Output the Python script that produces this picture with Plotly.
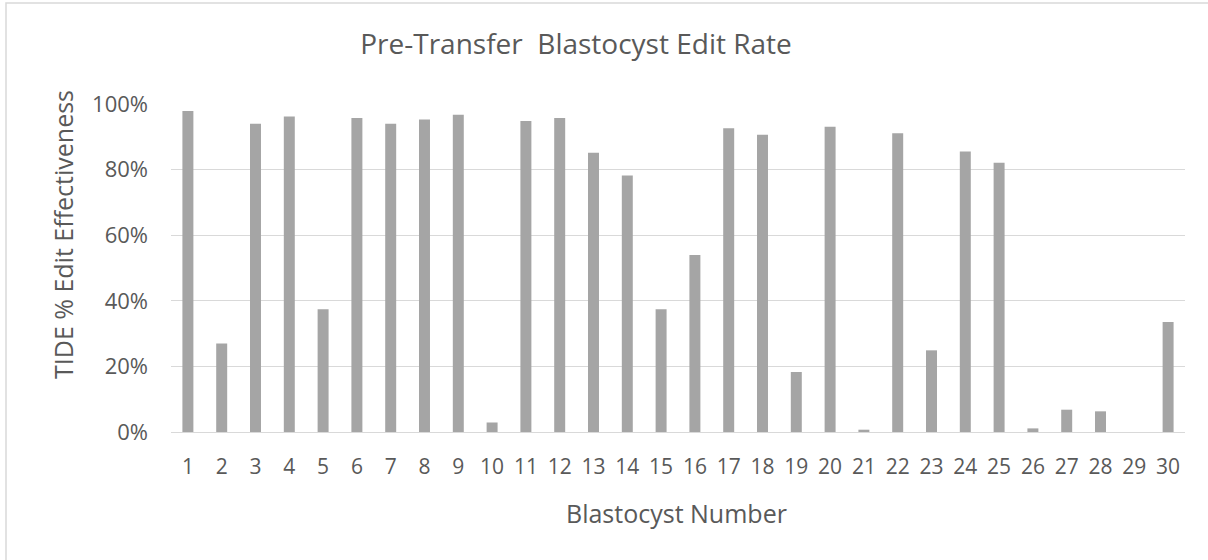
import plotly.graph_objects as go

blastocysts = [str(i) for i in range(1, 31)]
edit_rate = [97.9, 27.0, 94.0, 96.2, 37.4, 95.7, 94.0, 95.3, 96.7, 2.9,
             94.8, 95.7, 85.1, 78.2, 37.4, 54.0, 92.6, 90.6, 18.3, 93.1,
             0.7, 91.1, 24.9, 85.5, 82.1, 1.1, 6.8, 6.3, 0.0, 33.5]
y_ticks = [0, 0.2, 0.4, 0.6, 0.8, 1.0]

TXT = "#595959"
FONT = "Open Sans"

W, H = 1208, 560
L, R, T, B = 171, 23, 104, 128
PW, PH = W - L - R, H - T - B

fig = go.Figure(go.Bar(
    x=blastocysts,
    y=[v / 100 for v in edit_rate],
    marker=dict(color="#A5A5A5", line=dict(width=0)),
))

fig.update_layout(
    width=W, height=H,
    margin=dict(l=L, r=R, t=T, b=B),
    paper_bgcolor="white", plot_bgcolor="white",
    bargap=0.675,
    showlegend=False,
    font=dict(family=FONT, color=TXT, size=22),
    title=dict(text="Pre-Transfer  Blastocyst Edit Rate", x=576 / W, xref="container",
               xanchor="center", y=1 - 44 / H, yref="container", yanchor="middle",
               font=dict(family=FONT, size=28, color=TXT)),
    xaxis=dict(type="category", showgrid=False, showline=True, linecolor="#D9D9D9",
               linewidth=1, ticks="", ticklabelstandoff=16,
               tickfont=dict(size=21, color=TXT)),
    yaxis=dict(range=[0, 1], tickvals=y_ticks, tickformat=".0%",
               showgrid=True, gridcolor="#D9D9D9", gridwidth=1,
               zeroline=True, zerolinecolor="#D9D9D9", zerolinewidth=1,
               ticks="", ticklabelstandoff=22,
               tickfont=dict(size=22, color=TXT)),
    annotations=[
        dict(text="Blastocyst Number", xref="paper", yref="paper",
             x=(676 - L) / PW, y=(H - B - 513) / PH, xanchor="center", yanchor="middle",
             showarrow=False, font=dict(size=25, color=TXT)),
        dict(text="TIDE % Edit Effectiveness", xref="paper", yref="paper",
             x=(63 - L) / PW, y=(H - B - 235) / PH, xanchor="center", yanchor="middle",
             textangle=-90, showarrow=False, font=dict(size=25, color=TXT)),
    ],
)

fig.add_shape(type="rect", xref="paper", yref="paper",
              x0=(6 - L) / PW, x1=(1240 - L) / PW,
              y0=(H - B - 590) / PH, y1=(H - B - 3) / PH,
              line=dict(color="#D9D9D9", width=1.5), layer="below")

fig.write_html("out.html", config={"displayModeBar": False},
               post_script="document.body.style.margin='0';")
